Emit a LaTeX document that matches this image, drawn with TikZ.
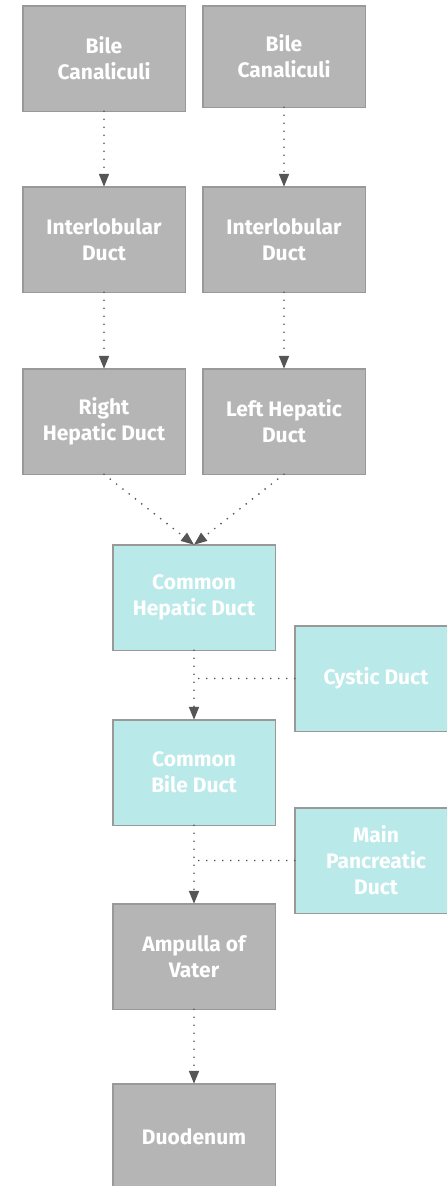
\documentclass[tikz,border=0pt]{standalone}
\usepackage{fontspec}
\setmainfont{Fira Sans}
\usetikzlibrary{arrows.meta, positioning, calc}
\definecolor{boxgray}{HTML}{B5B5B5}
\definecolor{boxteal}{HTML}{BAE9E9}
\definecolor{edgegray}{HTML}{999999}
\definecolor{linkgray}{HTML}{555555}
\tikzset{
    graybox/.style = {draw=edgegray, fill=boxgray, line width=1.5pt, outer sep=0pt, rectangle, minimum width=162.5pt, minimum height=105.5pt, align=center, text=white, font=\bfseries\fontsize{21}{26}\selectfont},
    tealbox/.style = {graybox, fill=boxteal},
    link/.style = {draw=linkgray, line width=1.9pt, line cap=round, dash pattern=on 0pt off 8pt},
    flow/.style = {link, -{Triangle[length=13pt, width=10pt]}}
}
\begin{document}
\begin{tikzpicture}[x=1pt, y=1pt, node distance=75pt]
    \useasboundingbox (0,0) rectangle (447,-1186);
    % Nodes
    \node [graybox] (canal1) at (104,-58.5) {Bile\\Canaliculi};
    \node [graybox, minimum height=101.5pt, anchor=north west] (canal2) at ([xshift=17.5pt]canal1.north east) {Bile\\Canaliculi};
    \node [graybox, below=75.5pt of canal1] (inter1) {Interlobular\\Duct};
    \node [graybox, below=79.5pt of canal2] (inter2) {Interlobular\\Duct};
    \node [graybox, below=76.5pt of inter1] (righthep) {Right\\Hepatic Duct};
    \node [graybox, below=76.5pt of inter2] (lefthep) {Left Hepatic\\Duct};
    \coordinate (mid) at ($(righthep.south)!0.5!(lefthep.south)$);
    \node [tealbox, below=70.5pt of mid] (commonhep) {Common\\Hepatic Duct};
    \node [tealbox, below=69.5pt of commonhep] (commonbile) {Common\\Bile Duct};
    \node [tealbox, anchor=north west] (cystic) at ([xshift=19.5pt, yshift=-81pt]commonhep.north east) {Cystic Duct};
    \node [tealbox, anchor=north west] (pancreatic) at ([xshift=19.5pt, yshift=-88pt]commonbile.north east) {Main\\Pancreatic\\Duct};
    \node [graybox, below=78.5pt of commonbile] (ampulla) {Ampulla of\\Vater};
    \node [graybox, below=74.5pt of ampulla] (duodenum) {Duodenum};
    \coordinate (joincystic) at (cystic.west -| commonhep.south);
    \coordinate (joinpanc) at (pancreatic.west -| commonbile.south);

    % Arrows
    \draw [flow] (canal1) -- (inter1);
    \draw [flow] (canal2) -- (inter2);
    \draw [flow] (inter1) -- (righthep);
    \draw [flow] (inter2) -- (lefthep);
    \draw [flow] (righthep.south) -- (commonhep.north);
    \draw [flow] (lefthep.south) -- (commonhep.north);
    \draw [flow] (commonhep) -- (commonbile);
    \draw [link] (cystic.west) -- (joincystic);
    \draw [flow] (commonbile) -- (ampulla);
    \draw [link] (pancreatic.west) -- (joinpanc);
    \draw [flow] (ampulla) -- (duodenum);
\end{tikzpicture}
\end{document}
